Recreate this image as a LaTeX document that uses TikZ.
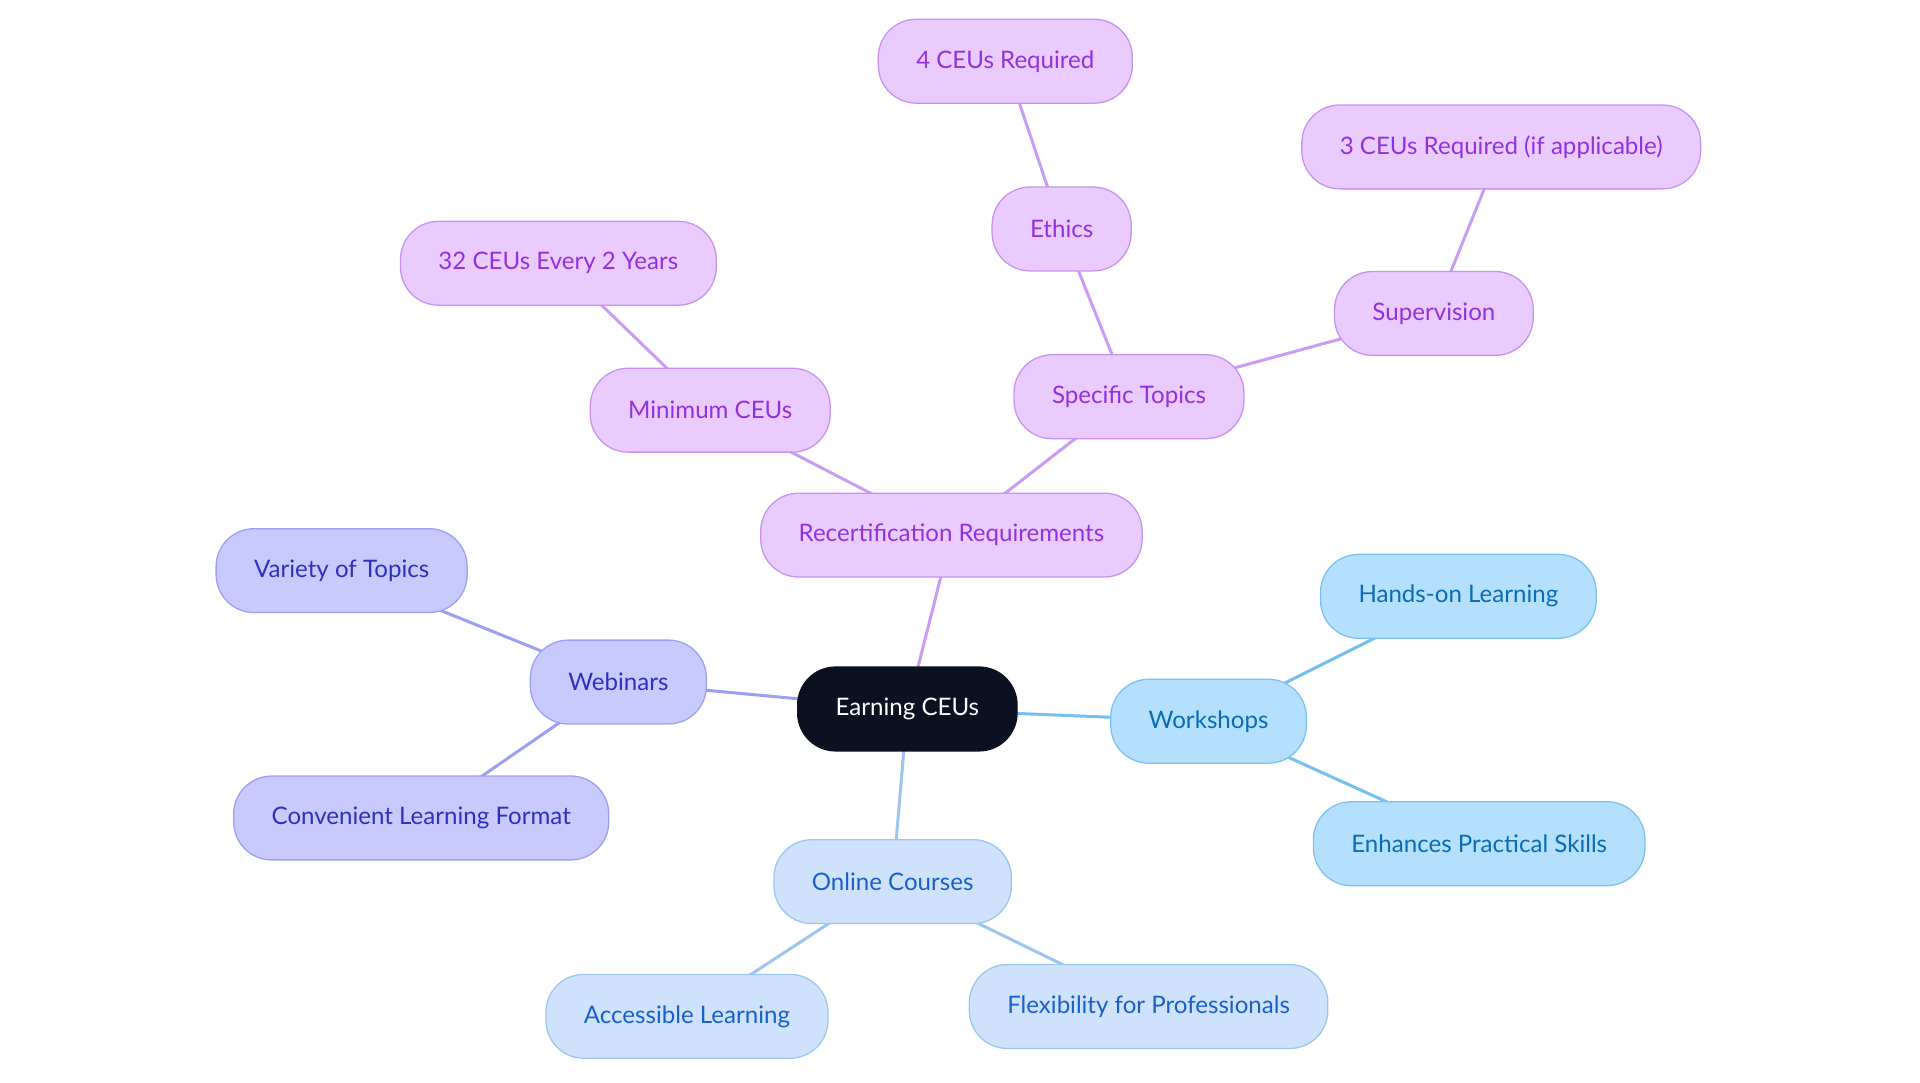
\documentclass[tikz,border=0pt]{standalone}
\usepackage{fontspec}
\setmainfont{Lato}
\usetikzlibrary{backgrounds}

\definecolor{ceuDark}{HTML}{0B1120}
\definecolor{recFill}{HTML}{E9CCFD}
\definecolor{recLine}{HTML}{C992F1}
\definecolor{recText}{HTML}{9331E0}
\definecolor{recEdge}{HTML}{C99CF5}
\definecolor{webFill}{HTML}{C8C9FC}
\definecolor{webLine}{HTML}{9DA0F3}
\definecolor{webText}{HTML}{3030C0}
\definecolor{webEdge}{HTML}{9CA0F2}
\definecolor{wsFill}{HTML}{B4E0FD}
\definecolor{wsLine}{HTML}{7CC2F0}
\definecolor{wsText}{HTML}{0A6CB4}
\definecolor{wsEdge}{HTML}{76C0F0}
\definecolor{ocFill}{HTML}{CEE3FB}
\definecolor{ocLine}{HTML}{9DC5F0}
\definecolor{ocText}{HTML}{1A60CC}
\definecolor{ocEdge}{HTML}{9DC5F0}

\begin{document}
\begin{tikzpicture}[x=0.02cm, y=-0.02cm, font=\fontsize{11.2}{13}\selectfont,
	topic/.style={rounded corners=0.62cm, minimum height=1.37cm, inner xsep=0.62cm, line width=0.6pt},
	rootbox/.style={topic, fill=ceuDark, draw=ceuDark, text=white},
	recbox/.style={topic, fill=recFill, draw=recLine, text=recText},
	webbox/.style={topic, fill=webFill, draw=webLine, text=webText},
	wsbox/.style={topic, fill=wsFill, draw=wsLine, text=wsText},
	ocbox/.style={topic, fill=ocFill, draw=ocLine, text=ocText},
	link/.style={line width=1.4pt}]
\useasboundingbox (0,0) rectangle (1568,884);

%----------------------------
% Centre
%----------------------------
\node[rootbox] (root) at (741,579) {Earning CEUs};

%----------------------------
% Recertification branch
%----------------------------
\node[recbox] (recert) at (777,437) {Recertification Requirements};
\node[recbox] (mincei) at (580,335) {Minimum CEUs};
\node[recbox] (every) at (456,215) {32 CEUs Every 2 Years};
\node[recbox] (topics) at (922,324) {Specific Topics};
\node[recbox] (ethics) at (867,187) {Ethics};
\node[recbox] (four) at (821,50) {4 CEUs Required};
\node[recbox] (superv) at (1171,256) {Supervision};
\node[recbox] (three) at (1226,120) {3 CEUs Required (if applicable)};

%----------------------------
% Webinars branch
%----------------------------
\node[webbox] (webin) at (505,557) {Webinars};
\node[webbox] (variety) at (279,466) {Variety of Topics};
\node[webbox] (conven) at (344,668) {Convenient Learning Format};

%----------------------------
% Workshops branch
%----------------------------
\node[wsbox] (works) at (987,589) {Workshops};
\node[wsbox] (hands) at (1191,487) {Hands-on Learning};
\node[wsbox] (enhan) at (1208,689) {Enhances Practical Skills};

%----------------------------
% Online courses branch
%----------------------------
\node[ocbox] (online) at (729,720) {Online Courses};
\node[ocbox] (access) at (561,830) {Accessible Learning};
\node[ocbox] (flexi) at (938,822) {Flexibility for Professionals};

%----------------------------
% Connectors (behind the boxes)
%----------------------------
\begin{scope}[on background layer]
	\draw[link, recEdge] (root.center) -- (recert.center);
	\draw[link, recEdge] (recert.center) -- (mincei.center);
	\draw[link, recEdge] (mincei.center) -- (every.center);
	\draw[link, recEdge] (recert.center) -- (topics.center);
	\draw[link, recEdge] (topics.center) -- (ethics.center);
	\draw[link, recEdge] (ethics.center) -- (four.center);
	\draw[link, recEdge] (topics.center) -- (superv.center);
	\draw[link, recEdge] (superv.center) -- (three.center);
	
	\draw[link, webEdge] (root.center) -- (webin.center);
	\draw[link, webEdge] (webin.center) -- (variety.center);
	\draw[link, webEdge] (webin.center) -- (conven.center);
	
	\draw[link, wsEdge] (root.center) -- (works.center);
	\draw[link, wsEdge] (works.center) -- (hands.center);
	\draw[link, wsEdge] (works.center) -- (enhan.center);
	
	\draw[link, ocEdge] (root.center) -- (online.center);
	\draw[link, ocEdge] (online.center) -- (access.center);
	\draw[link, ocEdge] (online.center) -- (flexi.center);
\end{scope}

\end{tikzpicture}
\end{document}
